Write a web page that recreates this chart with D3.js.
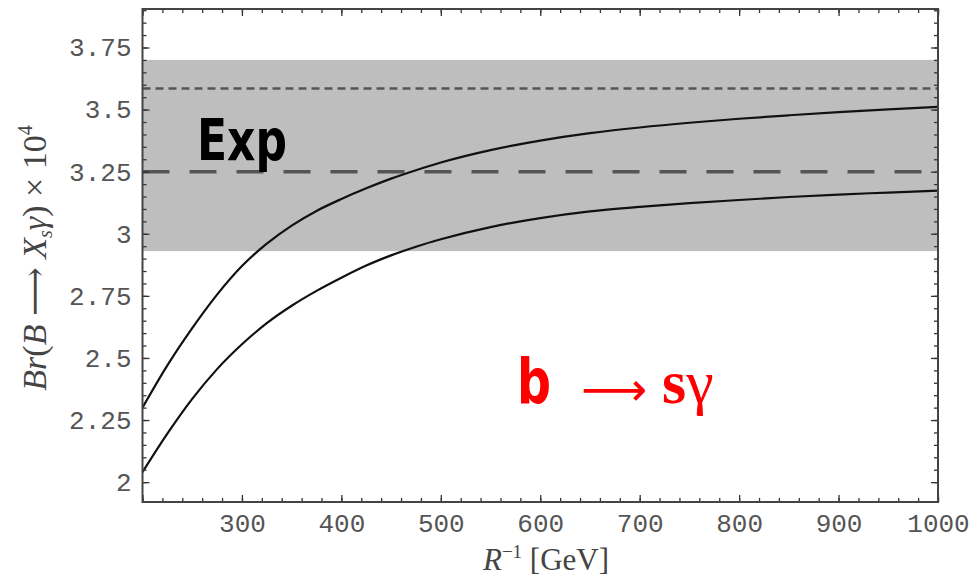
<!DOCTYPE html>
<html>
<head>
<meta charset="utf-8">
<script src="https://cdn.jsdelivr.net/npm/d3@7/dist/d3.min.js"></script>
<style>
  html, body { margin: 0; padding: 0; background: #fff; }
  svg { display: block; }
</style>
</head>
<body>
<svg id="chart" width="978" height="580"></svg>
<script>
// ---- data ----
const xValues     = [200, 225, 250, 275, 300, 325, 350, 375, 400, 425, 450, 475, 500, 550, 600, 650, 700, 750, 800, 850, 900, 950, 1000];
const upperCurve  = [2.30, 2.47, 2.62, 2.755, 2.87, 2.96, 3.033, 3.092, 3.14, 3.183, 3.222, 3.256, 3.287, 3.337, 3.375, 3.405, 3.428, 3.447, 3.463, 3.477, 3.49, 3.501, 3.511];
const lowerCurve  = [2.04, 2.195, 2.335, 2.455, 2.555, 2.64, 2.71, 2.77, 2.823, 2.872, 2.913, 2.948, 2.978, 3.027, 3.063, 3.09, 3.108, 3.123, 3.136, 3.148, 3.158, 3.166, 3.174];
const expBand     = [2.93, 3.70];   // experimental band (low, high)
const expCentral  = 3.25;           // long-dashed line
const expUpperDot = 3.585;          // short-dashed line
const xTicks      = [200, 300, 400, 500, 600, 700, 800, 900, 1000];
const xTickLabels = ["", "300", "400", "500", "600", "700", "800", "900", "1000"];
const yTicks      = [2, 2.25, 2.5, 2.75, 3, 3.25, 3.5, 3.75];
const yTickLabels = ["2", "2.25", "2.5", "2.75", "3", "3.25", "3.5", "3.75"];
const xDomain     = [200, 1000];
const yDomain     = [1.92, 3.905];

// ---- layout ----
const svg = d3.select("#chart");
const L = 142.5, R = 938, T = 9, B = 502;
const x = d3.scaleLinear().domain(xDomain).range([L, R]);
const y = d3.scaleLinear().domain(yDomain).range([B, T]);

const gray = "#555";

// band
svg.append("rect")
  .attr("x", x(xDomain[0])).attr("width", x(xDomain[1]) - x(xDomain[0]))
  .attr("y", y(expBand[1])).attr("height", y(expBand[0]) - y(expBand[1]))
  .attr("fill", "#bebebe");

// horizontal experimental lines
svg.append("line")
  .attr("x1", x(xDomain[0])).attr("x2", x(xDomain[1]))
  .attr("y1", y(expCentral)).attr("y2", y(expCentral))
  .attr("stroke", gray).attr("stroke-width", 3.5)
  .attr("stroke-dasharray", "27,20");
svg.append("line")
  .attr("x1", x(xDomain[0])).attr("x2", x(xDomain[1]))
  .attr("y1", y(expUpperDot)).attr("y2", y(expUpperDot))
  .attr("stroke", gray).attr("stroke-width", 2.5)
  .attr("stroke-dasharray", "8,5");

// curves
const line = d3.line().curve(d3.curveMonotoneX);
[upperCurve, lowerCurve].forEach(vals => {
  svg.append("path")
    .attr("d", line(xValues.map((v, i) => [x(v), y(vals[i])])))
    .attr("fill", "none").attr("stroke", "#111").attr("stroke-width", 2.2);
});

// ---- axes (ticks inside frame, on all sides) ----
const xMinor = d3.range(200, 1001, 20);
const yMinor = d3.range(2, 3.91, 0.05).map(v => +v.toFixed(2));

function styleAxis(g) {
  g.select(".domain").remove();
  g.selectAll(".tick line").attr("stroke", "#333").attr("stroke-width", 1.3);
  g.selectAll(".tick text")
    .attr("font-family", "'Liberation Mono', 'DejaVu Sans Mono', monospace")
    .attr("font-size", 26).attr("fill", "#555");
}

// bottom
svg.append("g").attr("transform", `translate(0,${B})`)
  .call(d3.axisBottom(x).tickValues(xMinor).tickSize(-4).tickFormat(""))
  .call(styleAxis);
svg.append("g").attr("transform", `translate(0,${B})`)
  .call(d3.axisBottom(x).tickValues(xTicks).tickSize(-7).tickPadding(12)
        .tickFormat((d, i) => xTickLabels[i]))
  .call(styleAxis);
// top
svg.append("g").attr("transform", `translate(0,${T})`)
  .call(d3.axisTop(x).tickValues(xMinor).tickSize(-4).tickFormat(""))
  .call(styleAxis);
svg.append("g").attr("transform", `translate(0,${T})`)
  .call(d3.axisTop(x).tickValues(xTicks).tickSize(-7).tickFormat(""))
  .call(styleAxis);
// left
svg.append("g").attr("transform", `translate(${L},0)`)
  .call(d3.axisLeft(y).tickValues(yMinor).tickSize(-4).tickFormat(""))
  .call(styleAxis);
svg.append("g").attr("transform", `translate(${L},0)`)
  .call(d3.axisLeft(y).tickValues(yTicks).tickSize(-7).tickPadding(11)
        .tickFormat((d, i) => yTickLabels[i]))
  .call(styleAxis);
// right
svg.append("g").attr("transform", `translate(${R},0)`)
  .call(d3.axisRight(y).tickValues(yMinor).tickSize(-4).tickFormat(""))
  .call(styleAxis);
svg.append("g").attr("transform", `translate(${R},0)`)
  .call(d3.axisRight(y).tickValues(yTicks).tickSize(-7).tickFormat(""))
  .call(styleAxis);

// frame
svg.append("rect")
  .attr("x", L).attr("y", T).attr("width", R - L).attr("height", B - T)
  .attr("fill", "none").attr("stroke", "#444").attr("stroke-width", 2);

// ---- axis titles ----
const serif = "'Liberation Serif', 'DejaVu Serif', serif";
const xt = svg.append("text")
  .attr("x", 546).attr("y", 570).attr("text-anchor", "middle")
  .attr("font-family", serif).attr("font-size", 31).attr("fill", "#444");
xt.append("tspan").attr("font-style", "italic").text("R");
xt.append("tspan").attr("font-size", 19).attr("dy", -12).text("−1");
xt.append("tspan").attr("dy", 12).text(" [GeV]");

const yt = svg.append("text")
  .attr("transform", "translate(46,258) rotate(-90)")
  .attr("text-anchor", "middle")
  .attr("font-family", serif).attr("font-size", 34).attr("fill", "#444");
yt.append("tspan").attr("font-style", "italic").text("Br");
yt.append("tspan").text("(");
yt.append("tspan").attr("font-style", "italic").text("B");
yt.append("tspan").text(" ⟶ ");
yt.append("tspan").attr("font-style", "italic").text("X");
yt.append("tspan").attr("font-style", "italic").attr("font-size", 20).attr("dy", 6).text("s");
yt.append("tspan").attr("font-style", "italic").attr("dy", -6).text("γ");
yt.append("tspan").text(") × 10");
yt.append("tspan").attr("font-size", 20).attr("dy", -14).text("4");

// ---- annotations ----
svg.append("text")
  .attr("x", 197).attr("y", 160)
  .attr("font-family", "'DejaVu Sans', sans-serif").attr("font-weight", "bold")
  .attr("font-size", 57).attr("fill", "#000")
  .attr("textLength", 90).attr("lengthAdjust", "spacingAndGlyphs")
  .text("Exp");

svg.append("text")
  .attr("x", 517).attr("y", 403)
  .attr("font-family", "'DejaVu Sans', sans-serif").attr("font-weight", "bold")
  .attr("font-size", 63).attr("fill", "#f00")
  .attr("textLength", 34).attr("lengthAdjust", "spacingAndGlyphs")
  .text("b");
svg.append("text")
  .attr("x", 614).attr("y", 389).attr("text-anchor", "middle")
  .attr("dominant-baseline", "central")
  .attr("font-family", "'DejaVu Sans', sans-serif")
  .attr("font-size", 46).attr("fill", "#f00")
  .text("⟶");
const sg = svg.append("text")
  .attr("x", 662).attr("y", 403)
  .attr("font-family", serif)
  .attr("font-size", 62).attr("fill", "#f00");
sg.append("tspan").attr("font-weight", "bold").text("s");
sg.append("tspan").text("γ");
</script>
</body>
</html>
